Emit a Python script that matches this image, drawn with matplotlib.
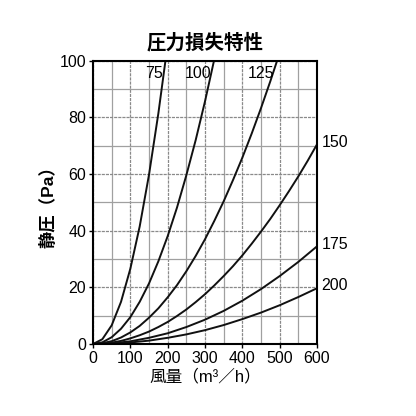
import matplotlib.pyplot as plt
from matplotlib.ticker import MultipleLocator

plt.rcParams['font.family'] = ['Liberation Sans', 'Noto Sans CJK JP', 'DejaVu Sans']

# values (flow m3/h -> static pressure Pa)
flow_75 = [0, 25, 50, 75, 100, 125, 150, 175, 194]
pa_75 = [0, 1.7, 6.6, 14.9, 26.6, 41.5, 59.8, 81.4, 100]

flow_100 = [0, 25, 50, 75, 100, 125, 150, 175, 200, 225, 250, 275, 300, 324]
pa_100 = [0, 0.6, 2.4, 5.4, 9.5, 14.9, 21.4, 29.2, 38.1, 48.2, 59.6, 72.0, 85.7, 100]

flow_125 = [0, 25, 50, 75, 100, 125, 150, 175, 200, 225, 250, 275, 300,
            325, 350, 375, 400, 425, 450, 475, 493]
pa_125 = [0, 0.3, 1.0, 2.3, 4.1, 6.4, 9.3, 12.6, 16.5, 20.8, 25.7, 31.1, 37.0,
          43.5, 50.4, 57.9, 65.8, 74.3, 83.3, 92.8, 100]

flow_150 = [0, 25, 50, 75, 100, 125, 150, 175, 200, 225, 250, 275, 300,
            325, 350, 375, 400, 425, 450, 475, 500, 525, 550, 575, 600]
pa_150 = [0, 0.1, 0.5, 1.1, 2.0, 3.1, 4.4, 6.0, 7.8, 9.9, 12.2, 14.8, 17.6,
          20.7, 24.0, 27.5, 31.3, 35.4, 39.7, 44.2, 49.0, 54.0, 59.2, 64.7, 70.5]

flow_175 = [0, 50, 100, 150, 200, 250, 300, 350, 400, 450, 500, 550, 600]
pa_175 = [0, 0.24, 0.96, 2.2, 3.8, 6.0, 8.6, 11.7, 15.3, 19.4, 24.0, 29.0, 34.5]

flow_200 = [0, 50, 100, 150, 200, 250, 300, 350, 400, 450, 500, 550, 600]
pa_200 = [0, 0.14, 0.55, 1.2, 2.2, 3.4, 4.9, 6.7, 8.8, 11.1, 13.7, 16.6, 19.7]

curves = [
    ("75", flow_75, pa_75),
    ("100", flow_100, pa_100),
    ("125", flow_125, pa_125),
    ("150", flow_150, pa_150),
    ("175", flow_175, pa_175),
    ("200", flow_200, pa_200),
]

fig = plt.figure(figsize=(4.16, 4.16), dpi=100)
ax = fig.add_axes([0.2236, 0.173, 0.5385, 0.681])

for name, q, p in curves:
    ax.plot(q, p, color="#111111", lw=1.4, solid_capstyle="butt")

# labels at top (right-aligned left of curve) and at right edge
for name, q, p in curves:
    if p[-1] >= 100:
        ax.text(q[-1] - 8, 95.5, name, ha="right", va="center", fontsize=11.5)
    else:
        ax.text(612, p[-1] + 0.8, name, ha="left", va="center", fontsize=11.5,
                clip_on=False)

ax.set_xlim(0, 600)
ax.set_ylim(0, 100)
ax.xaxis.set_major_locator(MultipleLocator(100))
ax.xaxis.set_minor_locator(MultipleLocator(50))
ax.yaxis.set_major_locator(MultipleLocator(20))
ax.yaxis.set_minor_locator(MultipleLocator(10))
ax.grid(which="major", color="#8a8a8a", lw=0.9, linestyle=(0, (2.5, 0.8)))
ax.grid(which="minor", color="#a0a0a0", lw=0.9)
ax.set_axisbelow(True)
ax.tick_params(which="major", direction="out", length=3, width=1, labelsize=11.5, pad=2)
ax.tick_params(which="minor", length=0)
for s in ax.spines.values():
    s.set_linewidth(1.5)

ax.set_title("圧力損失特性", fontsize=14, fontweight="bold", pad=9)
ax.set_xlabel("風量（m³／h）", fontsize=12, labelpad=2)
ax.set_ylabel("静圧（Pa）", fontsize=12.5, fontweight="bold", labelpad=2)

fig.savefig("out.png", dpi=100, facecolor="white")
